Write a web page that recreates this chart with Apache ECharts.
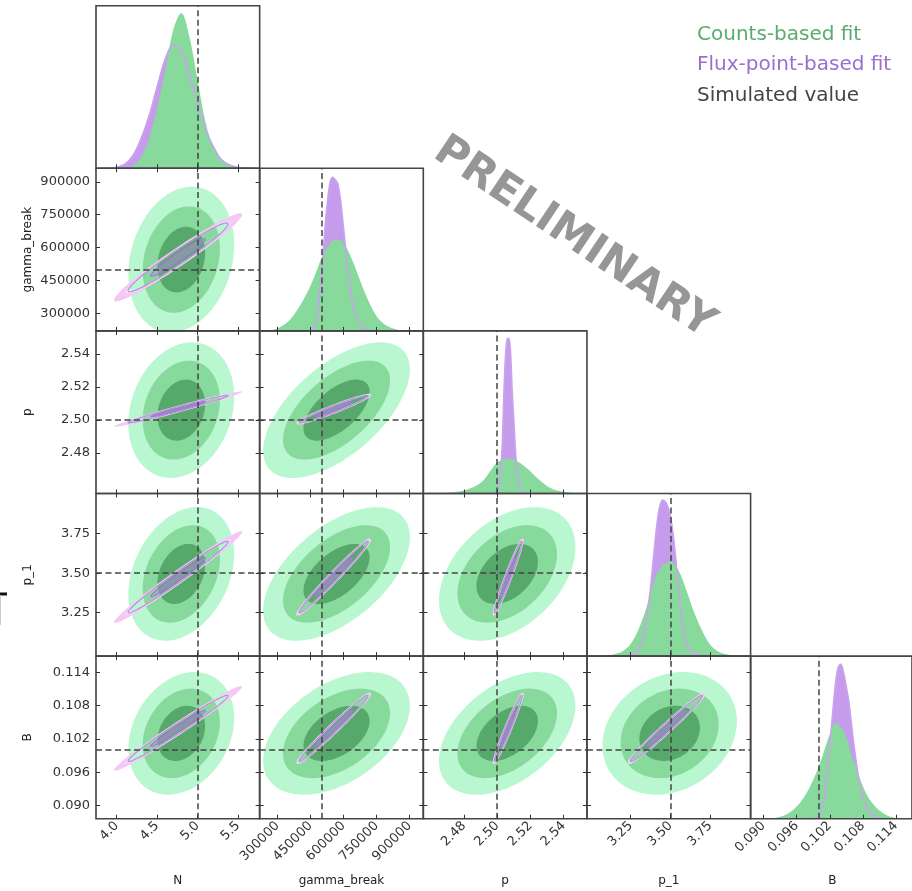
<!DOCTYPE html>
<html>
<head>
<meta charset="utf-8">
<script src="https://cdn.jsdelivr.net/npm/echarts@6/dist/echarts.min.js"></script>
<style>
  html, body { margin: 0; padding: 0; background: #ffffff; }
  #chart { width: 912px; height: 891px; }
</style>
</head>
<body>
<div id="chart"></div>
<script>
// ---- parameters, axis ranges and simulated (true) values ----
const PARAMS = ['N', 'gamma_break', 'p', 'p_1', 'B'];
const AXIS_MIN = [3.744, 219000, 2.4555, 2.976, 0.08765];
const AXIS_MAX = [5.770, 962000, 2.5540, 4.003, 0.11690];
const TRUTH = [5.0, 500000, 2.50, 3.50, 0.100];

// ---- tick positions and their labels ----
const TICKS_N = [4.0, 4.5, 5.0, 5.5];
const TICKS_GAMMA = [300000, 450000, 600000, 750000, 900000];
const TICKS_P = [2.48, 2.50, 2.52, 2.54];
const TICKS_P1 = [3.25, 3.50, 3.75];
const TICKS_B = [0.090, 0.096, 0.102, 0.108, 0.114];
const TICK_LABELS_N = ['4.0', '4.5', '5.0', '5.5'];
const TICK_LABELS_GAMMA = ['300000', '450000', '600000', '750000', '900000'];
const TICK_LABELS_P = ['2.48', '2.50', '2.52', '2.54'];
const TICK_LABELS_P1 = ['3.25', '3.50', '3.75'];
const TICK_LABELS_B = ['0.090', '0.096', '0.102', '0.108', '0.114'];

// ---- 2D credible regions: centre, bounding half-width of the inner region, correlation ----
const COUNTS_CENTER = [4.80, 568000, 2.506, 3.495, 0.1030];
const COUNTS_SPREAD = [0.295, 150000, 0.0185, 0.19, 0.00497];
const COUNTS_LEVELS = [2.22, 1.62, 1.0];
// [row parameter, column parameter, correlation]
const COUNTS_CORR = [
  [1, 0, 0.20], [2, 0, 0.20], [3, 0, 0.30], [4, 0, 0.25],
  [2, 1, 0.60], [3, 1, 0.55], [4, 1, 0.45],
  [3, 2, 0.40], [4, 2, 0.45],
  [4, 3, 0.20]
];
// [row parameter, column parameter, centre x, centre y] where a panel's centre differs
const COUNTS_CENTER_PANEL = [
  [1, 0, 4.80, 545000]
];
const FLUX_CENTER = [4.76, 555000, 2.5066, 3.475, 0.1039];
const FLUX_SPREAD = [0.26, 66000, 0.0035, 0.095, 0.0025];
const FLUX_OUTER = 2.5;
const FLUX_MID = 2.38;
const FLUX_INNER = 1.3;
const FLUX_TAIL = 3.05;
const FLUX_CORR = [
  [1, 0, 0.970], [2, 0, 0.985], [3, 0, 0.985], [4, 0, 0.985],
  [2, 1, 0.965], [3, 1, 0.985], [4, 1, 0.985],
  [3, 2, 0.975], [4, 2, 0.975],
  [4, 3, 0.985]
];

// ---- 1D marginal densities (relative panel height) ----
const N_GRID = [3.8, 3.9, 4.0, 4.1, 4.2, 4.3, 4.4, 4.5, 4.6, 4.7, 4.8, 4.9, 5.0, 5.1, 5.2, 5.3, 5.4, 5.5, 5.6, 5.7];
const COUNTS_N = [0, 0, 0.001, 0.004, 0.014, 0.066, 0.18, 0.37, 0.60, 0.85, 0.955, 0.81, 0.545, 0.284, 0.125, 0.058, 0.022, 0.006, 0.001, 0];
const FLUX_N = [0, 0.001, 0.006, 0.025, 0.077, 0.18, 0.32, 0.50, 0.67, 0.76, 0.72, 0.57, 0.41, 0.24, 0.13, 0.05, 0.02, 0.006, 0.001, 0];

const GAMMA_GRID = [225000, 250000, 275000, 300000, 325000, 350000, 375000, 400000, 425000, 450000,
  475000, 500000, 525000, 550000, 575000, 600000, 625000, 650000, 675000, 700000,
  725000, 750000, 775000, 800000, 825000, 850000, 875000, 900000, 925000, 950000];
const COUNTS_GAMMA = [0, 0.001, 0.006, 0.015, 0.034, 0.06, 0.10, 0.15, 0.21, 0.277,
  0.36, 0.45, 0.515, 0.555, 0.562, 0.54, 0.48, 0.40, 0.31, 0.225,
  0.15, 0.09, 0.052, 0.028, 0.014, 0.006, 0.003, 0.001, 0, 0];
const FLUX_GAMMA = [0, 0, 0, 0, 0, 0, 0, 0, 0, 0.003,
  0.05, 0.36, 0.77, 0.945, 0.90, 0.63, 0.30, 0.12, 0.042, 0.01,
  0.002, 0, 0, 0, 0, 0, 0, 0, 0, 0];

const P_GRID_COUNTS = [2.456, 2.460, 2.464, 2.468, 2.472, 2.476, 2.480, 2.484, 2.488, 2.492, 2.496, 2.500,
  2.504, 2.508, 2.512, 2.516, 2.520, 2.524, 2.528, 2.532, 2.536, 2.540, 2.544, 2.548, 2.552];
const COUNTS_P = [0, 0.001, 0.002, 0.004, 0.006, 0.01, 0.02, 0.033, 0.052, 0.085, 0.14, 0.19,
  0.21, 0.213, 0.198, 0.17, 0.135, 0.095, 0.062, 0.034, 0.018, 0.01, 0.005, 0.002, 0];
const P_GRID_FLUX = [2.497, 2.498, 2.499, 2.500, 2.501, 2.502, 2.503, 2.504, 2.505, 2.506, 2.507,
  2.508, 2.509, 2.510, 2.511, 2.512, 2.513, 2.514, 2.515, 2.516, 2.517];
const FLUX_P = [0, 0, 0.002, 0.01, 0.05, 0.14, 0.29, 0.61, 0.85, 0.95, 0.955,
  0.87, 0.63, 0.45, 0.26, 0.13, 0.06, 0.02, 0.004, 0, 0];

const P1_GRID_COUNTS = [3.00, 3.05, 3.10, 3.15, 3.20, 3.25, 3.30, 3.35, 3.40, 3.45, 3.50,
  3.55, 3.60, 3.65, 3.70, 3.75, 3.80, 3.85, 3.90, 3.95, 4.00];
const COUNTS_P1 = [0, 0.001, 0.004, 0.012, 0.03, 0.075, 0.165, 0.30, 0.47, 0.555, 0.58,
  0.53, 0.405, 0.265, 0.155, 0.07, 0.028, 0.011, 0.003, 0.001, 0];
const P1_GRID_FLUX = [3.175, 3.200, 3.225, 3.250, 3.275, 3.300, 3.325, 3.350, 3.375, 3.400, 3.425, 3.450,
  3.475, 3.500, 3.525, 3.550, 3.575, 3.600, 3.625, 3.650, 3.675, 3.700, 3.725, 3.750];
const FLUX_P1 = [0, 0.001, 0.002, 0.005, 0.012, 0.04, 0.11, 0.23, 0.42, 0.67, 0.88, 0.96,
  0.94, 0.86, 0.68, 0.42, 0.19, 0.08, 0.035, 0.015, 0.006, 0.002, 0.001, 0];

const B_GRID_COUNTS = [0.088, 0.089, 0.090, 0.091, 0.092, 0.093, 0.094, 0.095, 0.096, 0.097,
  0.098, 0.099, 0.100, 0.101, 0.102, 0.103, 0.104, 0.105, 0.106, 0.107,
  0.108, 0.109, 0.110, 0.111, 0.112, 0.113, 0.114, 0.115, 0.116];
const COUNTS_B = [0, 0, 0.001, 0.002, 0.005, 0.012, 0.025, 0.045, 0.075, 0.115,
  0.17, 0.24, 0.32, 0.42, 0.52, 0.585, 0.565, 0.50, 0.39, 0.29,
  0.20, 0.13, 0.085, 0.05, 0.028, 0.012, 0.005, 0.002, 0];
const B_GRID_FLUX = [0.0980, 0.0985, 0.0990, 0.0995, 0.1000, 0.1005, 0.1010, 0.1015, 0.1020, 0.1025,
  0.1030, 0.1035, 0.1040, 0.1045, 0.1050, 0.1055, 0.1060, 0.1065, 0.1070, 0.1075,
  0.1080, 0.1085, 0.1090, 0.1095, 0.1100, 0.1105, 0.1110, 0.1115, 0.1120];
const FLUX_B = [0, 0, 0.002, 0.006, 0.015, 0.05, 0.13, 0.29, 0.45, 0.64,
  0.82, 0.93, 0.95, 0.90, 0.81, 0.71, 0.56, 0.42, 0.30, 0.20,
  0.13, 0.08, 0.055, 0.033, 0.02, 0.01, 0.004, 0.001, 0];

const LEGEND_LABELS = ['Counts-based fit', 'Flux-point-based fit', 'Simulated value'];
const WATERMARK = 'PRELIMINARY';

// ---- lookup tables per parameter ----
const TICKS = [TICKS_N, TICKS_GAMMA, TICKS_P, TICKS_P1, TICKS_B];
const TICK_LABELS = [TICK_LABELS_N, TICK_LABELS_GAMMA, TICK_LABELS_P, TICK_LABELS_P1, TICK_LABELS_B];
const DIAG = [
  { cx: N_GRID, cy: COUNTS_N, fx: N_GRID, fy: FLUX_N },
  { cx: GAMMA_GRID, cy: COUNTS_GAMMA, fx: GAMMA_GRID, fy: FLUX_GAMMA },
  { cx: P_GRID_COUNTS, cy: COUNTS_P, fx: P_GRID_FLUX, fy: FLUX_P },
  { cx: P1_GRID_COUNTS, cy: COUNTS_P1, fx: P1_GRID_FLUX, fy: FLUX_P1 },
  { cx: B_GRID_COUNTS, cy: COUNTS_B, fx: B_GRID_FLUX, fy: FLUX_B }
];

// ---- styling ----
const FONT = 'DejaVu Sans';
const GREEN_LIGHT = '#b8f7cf';
const GREEN_MID = '#88d99c';
const GREEN_DARK = '#56a86b';
const PURPLE_FILL = '#c79bec';
const PURPLE_LINE = '#caa3ef';
const FRAME = '#444444';
const TRUTH_COLOR = '#444444';

// contour kinds: 0-2 counts levels, 3 flux tail ring, 4 flux outer line, 5 flux mid line, 6 flux inner
const CONTOUR_STYLES = [
  { fill: GREEN_LIGHT, stroke: null, width: 0 },
  { fill: GREEN_MID, stroke: null, width: 0 },
  { fill: GREEN_DARK, stroke: null, width: 0 },
  { fill: '#f5c6f6', stroke: null, width: 0 },
  { fill: null, stroke: '#f2d2f5', width: 2 },
  { fill: null, stroke: '#b88ee2', width: 1.2 },
  { fill: 'rgba(186,140,230,0.45)', stroke: '#a679d8', width: 1.2 }
];

const LEFT0 = 96, TOP0 = 5.7, CELL_W = 163.65, CELL_H = 162.6;

function tickLabel(param, v) {
  const ticks = TICKS[param];
  for (let i = 0; i < ticks.length; i++) {
    if (Math.abs(ticks[i] - v) <= Math.abs(ticks[i]) * 1e-6 + 1e-12) return TICK_LABELS[param][i];
  }
  return '';
}

function ellipse(api, cx, cy, hx, hy, rho) {
  const n = 120;
  const s = Math.sqrt(1 - rho * rho);
  const pts = [];
  for (let i = 0; i <= n; i++) {
    const t = 2 * Math.PI * i / n;
    pts.push(api.coord([cx + hx * Math.cos(t), cy + hy * (rho * Math.cos(t) + s * Math.sin(t))]));
  }
  return pts;
}

function renderContour(params, api) {
  const cx = api.value(0), cy = api.value(1), hx = api.value(2), hy = api.value(3);
  const rho = api.value(4), kind = api.value(5), hole = api.value(6);
  let points = ellipse(api, cx, cy, hx, hy, rho);
  if (hole > 0) {
    points = points.concat(ellipse(api, cx, cy, hx * hole, hy * hole, rho).reverse());
  }
  const st = CONTOUR_STYLES[kind];
  return {
    type: 'polygon',
    shape: { points: points },
    style: { fill: st.fill || 'none', stroke: st.stroke || 'none', lineWidth: st.width }
  };
}

function corr(table, r, c) {
  for (const row of table) if (row[0] === r && row[1] === c) return row[2];
  return 0;
}

function countsCenter(r, c) {
  for (const row of COUNTS_CENTER_PANEL) if (row[0] === r && row[1] === c) return [row[2], row[3]];
  return [COUNTS_CENTER[c], COUNTS_CENTER[r]];
}

const grids = [], xAxes = [], yAxes = [], series = [];
const tickStyle = { color: '#333333', width: 1 };

for (let r = 0; r < 5; r++) {
  for (let c = 0; c <= r; c++) {
    const gi = grids.length;
    const diag = (r === c);
    grids.push({
      left: LEFT0 + c * CELL_W, top: TOP0 + r * CELL_H, width: CELL_W, height: CELL_H,
      show: true, borderColor: FRAME, borderWidth: 1.6, backgroundColor: 'rgba(0,0,0,0)', z: 5
    });

    const xi = xAxes.length;
    xAxes.push({
      gridIndex: gi, type: 'value', position: 'bottom', min: AXIS_MIN[c], max: AXIS_MAX[c], z: 6,
      axisLine: { show: false }, splitLine: { show: false },
      axisTick: { show: true, inside: true, length: 4, customValues: TICKS[c], lineStyle: tickStyle },
      axisLabel: {
        show: r === 4, rotate: 45, margin: 5, customValues: TICKS[c],
        formatter: (v) => tickLabel(c, v),
        fontSize: 13, color: '#333333', fontFamily: FONT
      }
    });
    if (!diag) {
      xAxes.push({
        gridIndex: gi, type: 'value', position: 'top', min: AXIS_MIN[c], max: AXIS_MAX[c], z: 6,
        axisLine: { show: false }, splitLine: { show: false },
        axisTick: { show: true, inside: true, length: 4, customValues: TICKS[c], lineStyle: tickStyle },
        axisLabel: { show: false }
      });
    }

    const yi = yAxes.length;
    if (diag) {
      yAxes.push({ gridIndex: gi, type: 'value', min: 0, max: 1, show: false });
    } else {
      yAxes.push({
        gridIndex: gi, type: 'value', position: 'left', min: AXIS_MIN[r], max: AXIS_MAX[r], z: 6,
        axisLine: { show: false }, splitLine: { show: false },
        axisTick: { show: true, inside: true, length: 4, customValues: TICKS[r], lineStyle: tickStyle },
        axisLabel: {
          show: c === 0, margin: 6, customValues: TICKS[r],
          formatter: (v) => tickLabel(r, v),
          fontSize: 13, color: '#333333', fontFamily: FONT
        }
      });
      yAxes.push({
        gridIndex: gi, type: 'value', position: 'right', min: AXIS_MIN[r], max: AXIS_MAX[r], z: 6,
        axisLine: { show: false }, splitLine: { show: false },
        axisTick: { show: true, inside: true, length: 4, customValues: TICKS[r], lineStyle: tickStyle },
        axisLabel: { show: false }
      });
    }

    if (diag) {
      const d = DIAG[c];
      const fluxPts = d.fx.map((x, i) => [x, d.fy[i]]);
      const countPts = d.cx.map((x, i) => [x, d.cy[i]]);
      series.push({
        type: 'line', xAxisIndex: xi, yAxisIndex: yi, data: fluxPts, smooth: 0.35,
        symbol: 'none', silent: true, z: 2,
        lineStyle: { width: 0, color: PURPLE_FILL }, areaStyle: { color: PURPLE_FILL, opacity: 1 }
      });
      series.push({
        type: 'line', xAxisIndex: xi, yAxisIndex: yi, data: countPts, smooth: 0.35,
        symbol: 'none', silent: true, z: 2,
        lineStyle: { width: 0, color: GREEN_MID }, areaStyle: { color: GREEN_MID, opacity: 1 }
      });
      series.push({
        type: 'line', xAxisIndex: xi, yAxisIndex: yi, data: fluxPts, smooth: 0.35,
        symbol: 'none', silent: true, z: 3,
        lineStyle: { width: 1.6, color: PURPLE_LINE }
      });
    } else {
      const items = [];
      const rc = corr(COUNTS_CORR, r, c);
      const cc = countsCenter(r, c);
      COUNTS_LEVELS.forEach((k, li) => {
        items.push([cc[0], cc[1], k * COUNTS_SPREAD[c], k * COUNTS_SPREAD[r], rc, li, 0]);
      });
      const rf = corr(FLUX_CORR, r, c);
      const fcx = FLUX_CENTER[c], fcy = FLUX_CENTER[r], fsx = FLUX_SPREAD[c], fsy = FLUX_SPREAD[r];
      if (c === 0) {
        items.push([fcx, fcy, FLUX_TAIL * fsx, FLUX_TAIL * fsy, rf, 3, FLUX_OUTER / FLUX_TAIL]);
      }
      items.push([fcx, fcy, FLUX_OUTER * fsx, FLUX_OUTER * fsy, rf, 4, 0]);
      items.push([fcx, fcy, FLUX_MID * fsx, FLUX_MID * fsy, rf, 5, 0]);
      items.push([fcx, fcy, FLUX_INNER * fsx, FLUX_INNER * fsy, rf, 6, 0]);
      series.push({
        type: 'custom', xAxisIndex: xi, yAxisIndex: yi, clip: true, silent: true, z: 2,
        renderItem: renderContour, data: items
      });
    }

    // simulated value markers
    const markData = diag ? [{ xAxis: TRUTH[c] }] : [{ xAxis: TRUTH[c] }, { yAxis: TRUTH[r] }];
    series.push({
      type: 'line', xAxisIndex: xi, yAxisIndex: yi, silent: true, z: 4,
      data: [[TRUTH[c], diag ? 0.5 : TRUTH[r]]], symbol: 'none', showSymbol: false,
      lineStyle: { width: 0 },
      markLine: {
        silent: true, symbol: ['none', 'none'], animation: false,
        label: { show: false },
        lineStyle: { color: TRUTH_COLOR, type: [6, 3.5], width: 1.5 },
        data: markData
      }
    });
  }
}

// axis titles, legend text, watermark
const graphics = [];
for (let c = 0; c < 5; c++) {
  graphics.push({
    type: 'text', x: LEFT0 + (c + 0.5) * CELL_W, y: 881, z: 10,
    style: { text: PARAMS[c], font: '12px "' + FONT + '"', fill: '#222222', align: 'center', verticalAlign: 'middle' }
  });
}
for (let r = 1; r < 5; r++) {
  graphics.push({
    type: 'text', x: 27.5, y: TOP0 + (r + 0.5) * CELL_H, rotation: Math.PI / 2, z: 10,
    style: { text: PARAMS[r], font: '12px "' + FONT + '"', fill: '#222222', align: 'center', verticalAlign: 'middle' }
  });
}
const legendColors = ['#58ac6d', '#9d6ccf', '#444444'];
LEGEND_LABELS.forEach((t, i) => {
  graphics.push({
    type: 'text', x: 697, y: 34.5 + i * 30.5, z: 10,
    style: { text: t, font: '20px "' + FONT + '"', fill: legendColors[i], align: 'left', verticalAlign: 'middle' }
  });
});
graphics.push({
  type: 'text', x: 574, y: 238, rotation: -0.59, z: 10,
  style: { text: WATERMARK, font: 'bold 43px "' + FONT + '"', fill: '#969696', align: 'center', verticalAlign: 'middle' }
});
graphics.push({ type: 'rect', shape: { x: 0, y: 592.5, width: 7, height: 3 }, style: { fill: '#111111' }, z: 10 });
graphics.push({ type: 'line', shape: { x1: 0.5, y1: 595, x2: 0.5, y2: 625 }, style: { stroke: '#cccccc', lineWidth: 1 }, z: 10 });

const chart = echarts.init(document.getElementById('chart'), null, { renderer: 'canvas', width: 912, height: 891 });
chart.setOption({
  animation: false,
  backgroundColor: '#ffffff',
  grid: grids,
  xAxis: xAxes,
  yAxis: yAxes,
  series: series,
  graphic: graphics
});
</script>
</body>
</html>
